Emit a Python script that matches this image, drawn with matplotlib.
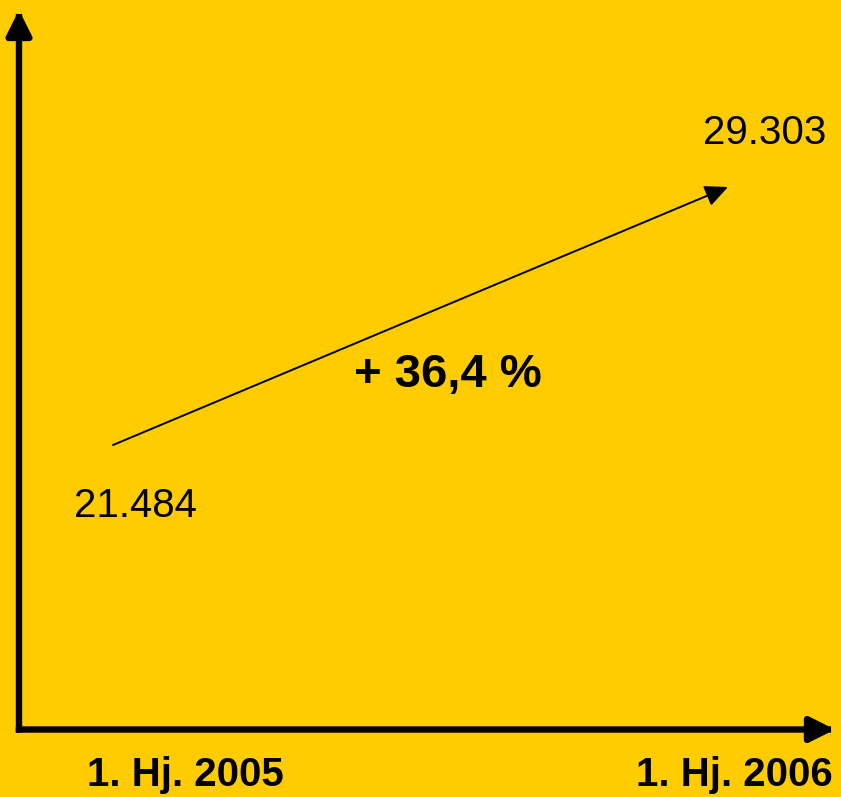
import matplotlib
matplotlib.use("Agg")
import matplotlib.pyplot as plt

periods = ["1. Hj. 2005", "1. Hj. 2006"]
values = [21484, 29303]
value_labels = ["21.484", "29.303"]
change_label = "+ 36,4 %"

bg = "#FFCC00"
W, H = 841, 797

plt.rcParams["font.family"] = ["Liberation Sans", "DejaVu Sans"]

fig = plt.figure(figsize=(W / 100, H / 100), dpi=100, facecolor=bg)
ax = fig.add_axes([0, 0, 1, 1])
ax.set_facecolor(bg)
ax.set_axis_off()

# scale: x 0 -> 113px, 1 -> 728px ; y 21484 -> 445px, 29303 -> 187px
px_per_x = 615.0
px_per_y = 258.0 / (values[1] - values[0])
ax.set_xlim(-113 / px_per_x, (W - 113) / px_per_x)
ax.set_ylim(values[0] - (H - 445) / px_per_y, values[0] + 445 / px_per_y)

# axes arrows (axes fraction)
ax_kw = dict(arrowstyle="-|>,head_length=15,head_width=7.5", mutation_scale=1,
             lw=4.6, color="black", shrinkA=0, shrinkB=0, capstyle="projecting")
ax.annotate("", xy=(19 / W, 1 - 10 / H), xytext=(19 / W, 1 - 729.5 / H),
            xycoords="axes fraction", arrowprops=ax_kw)
ax.annotate("", xy=(835 / W, 1 - 729.5 / H), xytext=(19 / W, 1 - 729.5 / H),
            xycoords="axes fraction", arrowprops=ax_kw)

# growth arrow
xs = list(range(len(values)))
ax.annotate("", xy=(xs[1], values[1]), xytext=(xs[0], values[0]),
            arrowprops=dict(arrowstyle="-|>,head_length=14,head_width=6.5", mutation_scale=1,
                            lw=1.4, color="black", shrinkA=0, shrinkB=0))

# value labels
offsets = [(22, -61), (37, 54)]
for x, v, lab, off in zip(xs, values, value_labels, offsets):
    ax.annotate(lab, xy=(x, v), xytext=off, textcoords="offset pixels",
                ha="center", va="center", fontsize=29, color="black")

ax.annotate(change_label, xy=(0.5, sum(values) / 2), xytext=(27, -59),
            textcoords="offset pixels", ha="center", va="center",
            fontsize=34, fontweight="bold", color="black")

# category labels
cat_offsets = [72, 6]
for x, lab, off in zip(xs, periods, cat_offsets):
    ax.annotate(lab, xy=(x, 0), xycoords=("data", "axes fraction"),
                xytext=(off, 22), textcoords="offset pixels",
                ha="center", va="center", fontsize=29, fontweight="bold", color="black")

fig.savefig("out.png", dpi=100, facecolor=bg)
